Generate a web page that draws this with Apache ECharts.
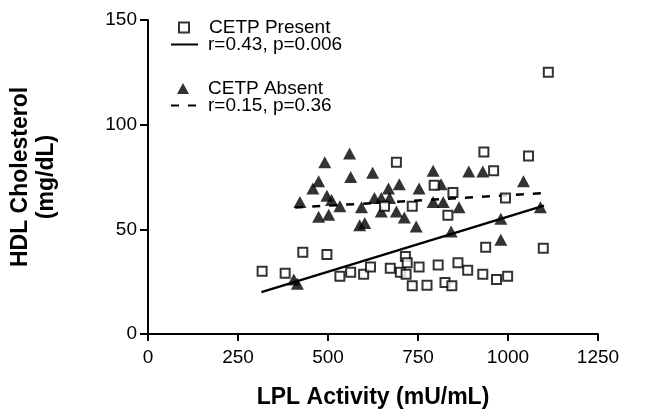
<!DOCTYPE html>
<html><head><meta charset="utf-8">
<script src="https://cdn.jsdelivr.net/npm/echarts@6/dist/echarts.min.js"></script>
<style>html,body{margin:0;padding:0;background:#fff}#c{width:645px;height:414px}</style>
</head><body><div id="c"></div>
<script>
// CETP Present (open squares)
const presentX = [317, 381, 430, 497, 533, 563, 599, 618, 673, 701, 715, 720, 717, 734, 753, 775, 806, 825, 844, 861, 888, 930, 968, 999, 938, 1098, 1112, 933, 960, 1057, 795, 847, 833, 993, 690, 657, 734];
const presentY = [30, 29, 39, 38, 27.6, 29.5, 28.5, 32, 31.4, 29.5, 37, 34, 28.6, 23, 32, 23.3, 33, 24.6, 23, 34, 30.5, 28.6, 26, 27.6, 41.4, 41, 125, 87, 78, 85, 71, 67.6, 56.7, 65, 82, 61, 61];
// CETP Absent (filled triangles)
const absentX = [405, 415, 422, 458, 474, 491, 474, 502, 497, 510, 533, 560, 563, 624, 593, 602, 588, 629, 648, 648, 668, 671, 690, 698, 712, 745, 753, 792, 792, 814, 820, 864, 842, 891, 930, 1043, 980, 980, 1090];
const absentY = [26, 24, 63, 69.5, 73, 82, 56, 57, 66, 64, 61, 86.2, 75, 77, 60.5, 53, 52, 65, 65, 58.5, 69.5, 65, 58.5, 71.5, 55.7, 51.4, 69.5, 78, 63, 71.5, 63, 60.5, 49, 77.6, 77.6, 73, 55, 45, 60.5];
// regression lines (end points)
const presentFitX = [315, 1100];
const presentFitY = [20, 61.3];
const absentFitX = [409, 1093];
const absentFitY = [60.4, 67.2];
// axes
const xTicks = [0, 250, 500, 750, 1000, 1250];
const yTicks = [0, 50, 100, 150];
const xTitle = 'LPL Activity (mU/mL)';
const yTitle = 'HDL Cholesterol\n(mg/dL)';
const legendNames = ['CETP Present', 'r=0.43, p=0.006', 'CETP Absent', 'r=0.15, p=0.36'];

const FONT = '"Liberation Sans", Arial, Helvetica, sans-serif';
const zip = (a, b) => a.map((v, i) => [v, b[i]]);

const chart = echarts.init(document.getElementById('c'), null, {renderer: 'canvas'});
const txt = {fontFamily: FONT, fontSize: 19, color: '#000'};
const legends = [
  {data: [legendNames[0]], left: 178, top: 18, itemWidth: 10, itemHeight: 10,
   textStyle: Object.assign({padding: [0, 0, 0, 15]}, txt)},
  {data: [legendNames[1]], left: 170, top: 35, itemWidth: 27, itemHeight: 10,
   itemStyle: {color: 'rgba(0,0,0,0)', borderWidth: 0},
   textStyle: Object.assign({padding: [0, 0, 0, 5]}, txt)},
  {data: [legendNames[2]], left: 177, top: 79, itemWidth: 12, itemHeight: 11,
   textStyle: Object.assign({padding: [0, 0, 0, 14]}, txt)},
  {data: [legendNames[3]], left: 170, top: 96, itemWidth: 27, itemHeight: 10,
   itemStyle: {color: 'rgba(0,0,0,0)', borderWidth: 0},
   textStyle: Object.assign({padding: [0, 0, 0, 5]}, txt)}
].map(l => Object.assign({orient: 'horizontal', selectedMode: false, padding: 0}, l));

chart.setOption({
  animation: false,
  backgroundColor: '#fff',
  grid: {left: 145, right: 47, top: 20, bottom: 79, containLabel: false},
  legend: legends,
  xAxis: {
    type: 'value', min: xTicks[0], max: xTicks[xTicks.length - 1], interval: xTicks[1] - xTicks[0],
    name: xTitle, nameLocation: 'middle', nameGap: 52,
    nameTextStyle: {fontFamily: FONT, fontSize: 23, fontWeight: 'bold', color: '#000'},
    axisLine: {lineStyle: {color: '#000', width: 2}},
    axisTick: {length: 7, lineStyle: {color: '#000', width: 2}},
    axisLabel: {fontFamily: FONT, fontSize: 19, color: '#000', margin: 14, formatter: v => String(v)},
    splitLine: {show: false}
  },
  yAxis: {
    type: 'value', min: yTicks[0], max: yTicks[yTicks.length - 1], interval: yTicks[1] - yTicks[0],
    name: yTitle, nameLocation: 'middle', nameGap: 88, nameRotate: 90,
    nameTextStyle: {fontFamily: FONT, fontSize: 23, fontWeight: 'bold', color: '#000', lineHeight: 26},
    axisLine: {lineStyle: {color: '#000', width: 2}},
    axisTick: {length: 8, lineStyle: {color: '#000', width: 2}},
    axisLabel: {fontFamily: FONT, fontSize: 19, color: '#000', margin: 11, formatter: v => String(v)},
    splitLine: {show: false}
  },
  series: [
    {
      name: legendNames[2], type: 'scatter', symbol: 'triangle', symbolSize: [13, 12], z: 2,
      itemStyle: {color: '#000'},
      data: zip(absentX, absentY)
    },
    {
      name: legendNames[1], type: 'line', symbol: 'none', z: 3,
      lineStyle: {color: '#000', width: 2.5},
      itemStyle: {color: '#000'},
      data: zip(presentFitX, presentFitY)
    },
    {
      name: legendNames[3], type: 'line', symbol: 'none', z: 3,
      lineStyle: {color: '#000', width: 2.5, type: [8, 9]},
      itemStyle: {color: '#000'},
      data: zip(absentFitX, absentFitY)
    },
    {
      name: legendNames[0], type: 'scatter', symbol: 'rect', symbolSize: 9, z: 4,
      itemStyle: {color: '#fff', borderColor: '#000', borderWidth: 2},
      data: zip(presentX, presentY)
    }
  ]
});
</script></body></html>
